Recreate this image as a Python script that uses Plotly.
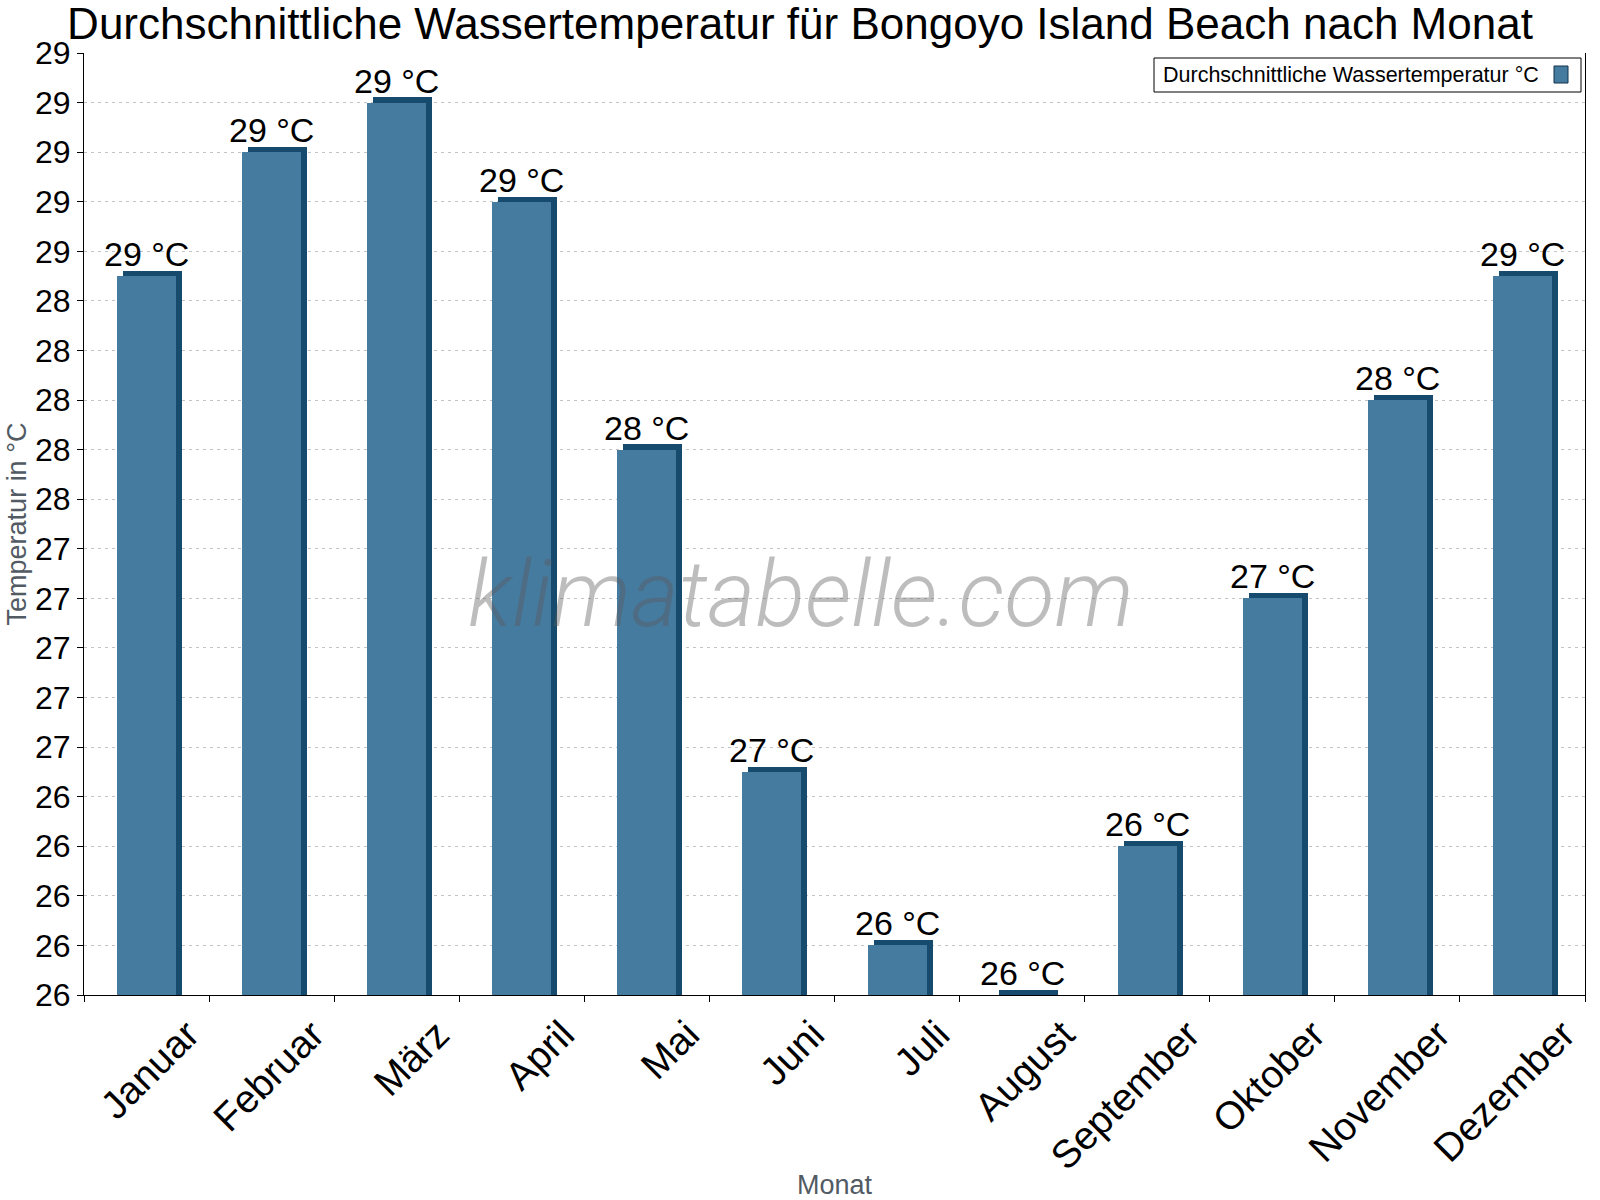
import math
import plotly.graph_objects as go

# ---- data ----
months = ["Januar", "Februar", "März", "April", "Mai", "Juni", "Juli",
          "August", "September", "Oktober", "November", "Dezember"]
water_temp = [28.5, 29.0, 29.2, 28.8, 27.8, 26.5, 25.8, 25.6, 26.2, 27.2, 28.0, 28.5]
value_labels = [f"{int(math.floor(v + 0.5))} °C" for v in water_temp]

title_text = "Durchschnittliche Wassertemperatur für Bongoyo Island Beach nach Monat"
series_name = "Durchschnittliche Wassertemperatur °C"
y_title = "Temperatur in °C"
x_title = "Monat"
watermark = "klimatabelle.com"

# ---- style ----
FONT = "Liberation Sans, Arial, sans-serif"
BAR = "#467ba0"
BAR_DARK = "#174b6d"
BAR_W = 0.472
EDGE_X = 0.048      # depth of the 3D side (category units)
EDGE_Y = 0.021      # depth of the 3D top (data units)

fig = go.Figure()

# dark "3D" edge behind the bar
fig.add_trace(go.Bar(
    x=months, y=[v + EDGE_Y for v in water_temp],
    width=BAR_W, offset=-BAR_W / 2 + EDGE_X,
    marker=dict(color=BAR_DARK, line=dict(width=0)),
    showlegend=False, hoverinfo="skip",
))
# main bar face
fig.add_trace(go.Bar(
    x=months, y=water_temp, name=series_name,
    width=BAR_W, offset=-BAR_W / 2,
    marker=dict(color=BAR, line=dict(width=0)),
    showlegend=False,
))

# value labels above bars
for m, v, t in zip(months, water_temp, value_labels):
    fig.add_annotation(x=m, y=v, xref="x", yref="y", text=t, showarrow=False,
                       yanchor="bottom", yshift=1,
                       font=dict(family=FONT, size=34, color="black"))

# watermark
fig.add_annotation(x=0.4777, y=0.425, xref="paper", yref="paper", text=watermark,
                   showarrow=False, xanchor="center", yanchor="middle",
                   font=dict(family="Roboto", size=92, color="rgba(90,90,90,0.4)",
                             style="italic", weight=300))

# legend (symbol on the right of the text)
fig.add_shape(type="rect", xref="paper", yref="paper", layer="above",
              xsizemode="pixel", ysizemode="pixel", xanchor=1, yanchor=1,
              x0=-431, x1=-4, y0=-39, y1=-5,
              line=dict(color="black", width=1), fillcolor="white")
fig.add_shape(type="rect", xref="paper", yref="paper", layer="above",
              xsizemode="pixel", ysizemode="pixel", xanchor=1, yanchor=1,
              x0=-31, x1=-17, y0=-30, y1=-13,
              line=dict(color="#10324a", width=1), fillcolor=BAR)
fig.add_annotation(x=1, y=1, xref="paper", yref="paper", text=series_name,
                   showarrow=False, xanchor="right", yanchor="middle",
                   xshift=-44, yshift=-22,
                   font=dict(family=FONT, size=21.5, color="black"))

fig.update_layout(
    width=1600, height=1200,
    margin=dict(l=84, r=15, t=53, b=205, autoexpand=False),
    paper_bgcolor="white", plot_bgcolor="white",
    barmode="overlay", bargap=0,
    showlegend=False,
    font=dict(family=FONT, color="black"),
    title=dict(text=title_text, x=0.5, xref="container", xanchor="center",
               y=0.98, yref="container", yanchor="middle",
               pad=dict(t=0, b=0, l=0, r=0),
               font=dict(family=FONT, size=44, color="black")),
    xaxis=dict(
        type="category", categoryorder="array", categoryarray=months,
        showline=True, linecolor="black", linewidth=1,
        ticks="outside", ticklen=6, tickcolor="black", tickson="boundaries",
        showgrid=False, zeroline=False,
        tickangle=-45, tickfont=dict(family=FONT, size=39, color="black"),
        ticklabelshift=41,
        title=dict(text=x_title, standoff=6,
                   font=dict(family=FONT, size=27, color="#525a63")),
    ),
    yaxis=dict(
        range=[25.6, 29.4 + 1e-6], tick0=25.6, dtick=0.2, tickformat=".0f",
        showline=True, linecolor="black", linewidth=1, mirror=True,
        ticks="outside", ticklen=6, tickcolor="black",
        showgrid=True, gridcolor="#c4c4c4", gridwidth=1, griddash="3px,4px",
        zeroline=False,
        tickfont=dict(family=FONT, size=32, color="black"),
        title=dict(text=y_title, standoff=0,
                   font=dict(family=FONT, size=27, color="#525a63")),
    ),
)

fig.write_html("out.html", config={"displayModeBar": False},
               post_script="document.body.style.margin='0px';")
